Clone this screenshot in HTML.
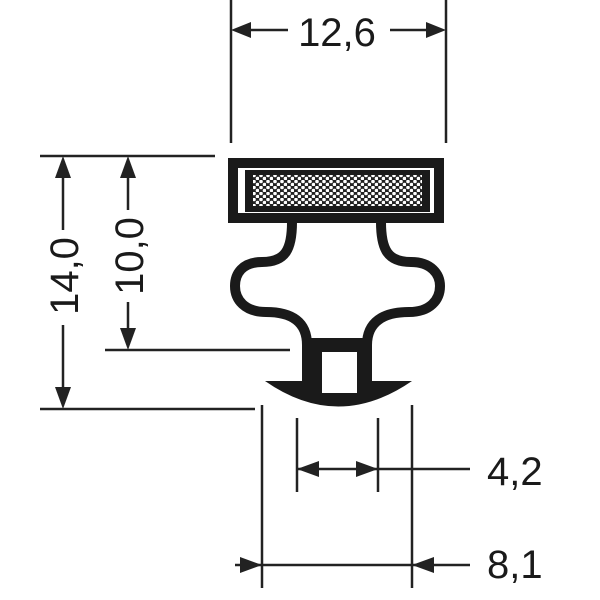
<!DOCTYPE html>
<html><head><meta charset="utf-8"><style>
html,body{margin:0;padding:0;background:#fff;}
svg{display:block;}
text{font-family:"Liberation Sans",Arial,sans-serif;fill:#1a1a1a;}
</style></head><body>
<svg width="600" height="600" viewBox="0 0 600 600" xmlns="http://www.w3.org/2000/svg">
<defs>
<pattern id="mesh" width="7" height="6" patternUnits="userSpaceOnUse">
<rect width="7" height="6" fill="#222"/>
<circle cx="2" cy="1.5" r="1.8" fill="#fff"/>
<circle cx="5.5" cy="4.5" r="1.8" fill="#fff"/>
</pattern>
</defs>
<g stroke="#222" stroke-width="2.5" fill="none">
<!-- top dim -->
<line x1="231" y1="0" x2="231" y2="143"/>
<line x1="446" y1="0" x2="446" y2="143"/>
<line x1="250" y1="30" x2="288" y2="30"/>
<line x1="390" y1="30" x2="428" y2="30"/>
<!-- left dims -->
<line x1="40" y1="156" x2="215" y2="156"/>
<line x1="40" y1="409" x2="255" y2="409"/>
<line x1="105" y1="350" x2="290" y2="350"/>
<line x1="63" y1="175" x2="63" y2="230"/>
<line x1="63" y1="325" x2="63" y2="390"/>
<line x1="128" y1="175" x2="128" y2="210"/>
<line x1="128" y1="302" x2="128" y2="330"/>
<!-- bottom dims -->
<line x1="262" y1="405" x2="262" y2="588"/>
<line x1="412" y1="405" x2="412" y2="588"/>
<line x1="297" y1="418" x2="297" y2="492"/>
<line x1="378" y1="418" x2="378" y2="492"/>
<line x1="297" y1="469" x2="470" y2="469"/>
<line x1="235" y1="565" x2="470" y2="565"/>
</g>
<g fill="#222">
<polygon points="231,30 251,22 251,38"/>
<polygon points="446,30 426,22 426,38"/>
<polygon points="63,156 55,178 71,178"/>
<polygon points="63,409 55,387 71,387"/>
<polygon points="128,156 120,178 136,178"/>
<polygon points="128,350 120,328 136,328"/>
<polygon points="297,469 319,461 319,477"/>
<polygon points="378,469 356,461 356,477"/>
<polygon points="262,565 240,557 240,573"/>
<polygon points="412,565 434,557 434,573"/>
</g>
<text x="337" y="46" font-size="40" text-anchor="middle">12,6</text>
<text transform="translate(78,276) rotate(-90)" font-size="40" text-anchor="middle">14,0</text>
<text transform="translate(143,256) rotate(-90)" font-size="40" text-anchor="middle">10,0</text>
<text x="487" y="485" font-size="40">4,2</text>
<text x="487" y="578" font-size="40">8,1</text>
<!-- profile -->
<rect x="233" y="163" width="206" height="55" fill="none" stroke="#1a1a1a" stroke-width="10"/>
<rect x="245" y="170" width="185" height="42" fill="#1a1a1a"/>
<rect x="253" y="175" width="169" height="31" fill="url(#mesh)"/>
<path d="M292,222 C292,250 285,262 262,262 C242,262 235,274 235,286 C235,300 245,312 266,312 C292,312 307,322 307,345 M381,222 C381,250 388,262 411,262 C431,262 440,274 440,286 C440,300 430,312 409,312 C383,312 367,322 367,345" fill="none" stroke="#1a1a1a" stroke-width="10"/>
<rect x="302" y="338" width="70" height="50" fill="#1a1a1a"/>
<path d="M265,381 L412,381 Q338,432 265,381 Z" fill="#1a1a1a"/>
<rect x="322" y="352" width="35" height="41" fill="#fff"/>
</svg>
</body></html>
